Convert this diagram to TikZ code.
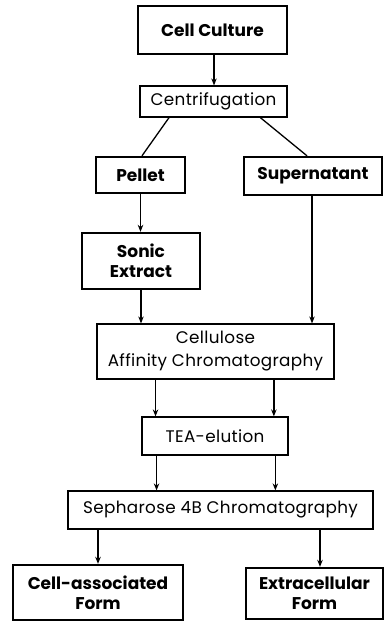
\documentclass[tikz,border=0pt]{standalone}
\usepackage{fontspec}
\setmainfont{Poppins}
\newfontfamily\regfont[LetterSpace=2]{Poppins}
\usetikzlibrary{arrows.meta,calc}
\begin{document}
\begin{tikzpicture}[x=1pt,y=-1pt,
  every node/.style={inner sep=0pt,align=center},
  thinbox/.style={draw,line width=1.2pt,font=\regfont\fontsize{16.8}{23}\selectfont},
  thickbox/.style={draw,line width=2.4pt,font=\bfseries\fontsize{17}{20}\selectfont},
  conn/.style={line width=1.3pt},
  arr/.style={conn,-{Stealth[length=7pt,width=5.5pt]}}]
\useasboundingbox (0,0) rectangle (385,630);
\node[thickbox,minimum width=149pt,minimum height=48pt] (cc) at (212.5,30) {Cell Culture};
\node[thinbox,minimum width=147pt,minimum height=31pt] (cf) at (213.5,101.5) {Centrifugation};
\node[thickbox,minimum width=89pt,minimum height=36pt] (pel) at (140.5,175) {Pellet};
\node[thickbox,minimum width=138pt,minimum height=38pt] (sup) at (313,176) {Supernatant};
\node[thickbox,minimum width=118pt,minimum height=56pt] (son) at (141,261) {Sonic\\Extract};
\node[thinbox,minimum width=237pt,minimum height=55pt] (cel) at (215.5,351.5) {Cellulose\\Affinity Chromatography};
\node[thinbox,minimum width=146pt,minimum height=38pt] (tea) at (215,436) {TEA-elution};
\node[thinbox,minimum width=305pt,minimum height=38pt] (sep) at (220.5,510) {Sepharose 4B Chromatography};
\node[thickbox,minimum width=170pt,minimum height=55pt] (ca) at (98,592.5) {Cell-associated\\Form};
\node[thickbox,minimum width=137pt,minimum height=51pt] (ec) at (314.5,593.5) {Extracellular\\Form};
\coordinate (t1) at ($(tea.north west)!0.096!(tea.north east)$);
\coordinate (t2) at ($(tea.north west)!0.9!(tea.north east)$);
\coordinate (s1) at ($(tea.south west)!0.103!(tea.south east)$);
\coordinate (s2) at ($(tea.south west)!0.91!(tea.south east)$);
\coordinate (c1) at ($(cf.south west)!0.2!(cf.south east)$);
\coordinate (c2) at ($(cf.south west)!0.816!(cf.south east)$);
\draw[arr] ([xshift=1.5pt]cc.south) -- ([xshift=0.5pt]cf.north);
\draw[conn] (c1) -- ([xshift=1.5pt]pel.north);
\draw[conn] (c2) -- ([xshift=-6pt]sup.north);
\draw[arr] (pel.south) -- (pel.south |- son.north);
\draw[arr] ([xshift=-1pt]sup.south) -- ([xshift=-1pt]sup.south |- cel.north);
\draw[arr] (son.south) -- (son.south |- cel.north);
\draw[arr] (t1 |- cel.south) -- (t1);
\draw[arr] (t2 |- cel.south) -- (t2);
\draw[arr] (s1) -- (s1 |- sep.north);
\draw[arr] (s2) -- (s2 |- sep.north);
\draw[arr] (sep.south -| ca.north) -- (ca.north);
\draw[arr] ([xshift=5.5pt]sep.south -| ec.north) -- ([xshift=5.5pt]ec.north);
\end{tikzpicture}
\end{document}
